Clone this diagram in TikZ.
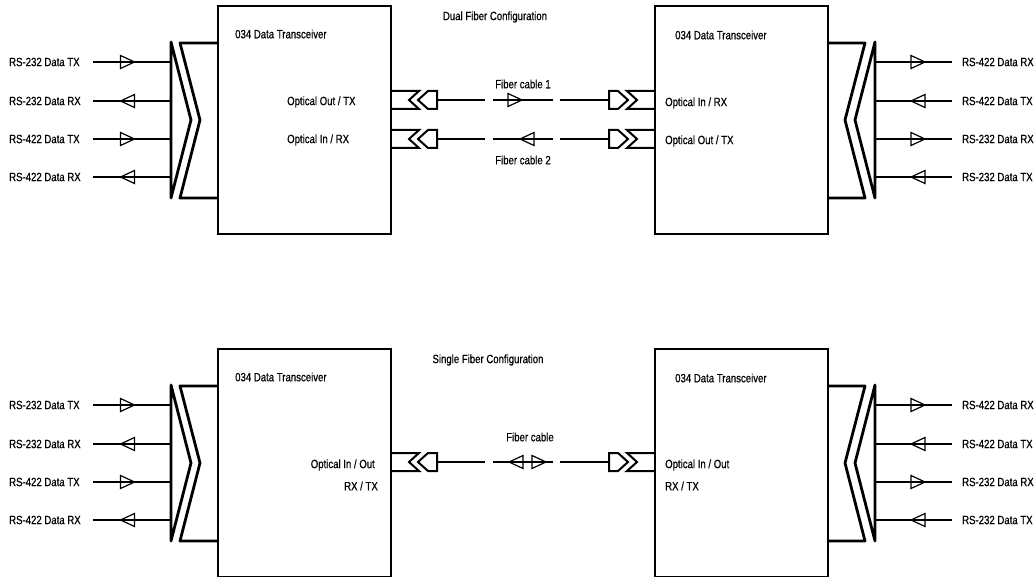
\documentclass[tikz,border=0pt]{standalone}
\usepackage{fontspec}
\setmainfont{Liberation Sans}[FakeStretch=0.8, FakeBold=0.6]
\tikzset{
  lbl/.style={inner sep=0pt, font=\fontsize{12}{14}\selectfont},
  xcvr/.style={draw, line width=2.8pt, minimum width=173pt, minimum height=228pt, inner sep=0pt},
  wire/.style={line width=2.4pt},
  port/.style={line width=2.8pt, line join=round},
  fib/.style={line width=2pt},
  fibre/.style={fib, dash pattern=on 48pt off 8pt on 60pt off 7pt on 49pt},
  tri/.pic={\draw[line width=1.2pt] (-7,-6.5) -- (7,0) -- (-7,6.5) -- cycle;},
  plug/.pic={
    \draw[fib] (0,-9) -- (28,-9) -- (18,0) -- (28,9) -- (0,9);
    \draw[fib] (46,-9) -- (37,-9) -- (27,0) -- (37,9) -- (46,9) -- cycle;
    \coordinate (-end) at (46,0);
  },
}
\begin{document}
\begin{tikzpicture}[x=1pt, y=-1pt]
        \useasboundingbox (0,0) rectangle (1034,577);
        % both halves share the transceivers and the data ports
        \foreach \s/\h in {0/a, 343/b}{
          \begin{scope}[shift={(0,\s)}]
            \node[xcvr] (boxL\h) at (304.5,120) {};
            \node[xcvr] (boxR\h) at (741.5,120) {};
            \node[lbl, anchor=west] (nameL\h) at (235,34) {034 Data Transceiver};
            \node[lbl, anchor=west] (nameR\h) at (675,35) {034 Data Transceiver};
            \draw[port] (171,42) -- (191,120) -- (171,198) -- cycle;
            \draw[port] (218,43) -- (180,43) -- (200,120) -- (180,198) -- (218,198);
            \draw[port] (875,42) -- (855,120) -- (875,198) -- cycle;
            \draw[port] (828,43) -- (865,43) -- (845,120) -- (865,198) -- (828,198);
            \foreach \y/\a/\b/\r in {62/RS-232 Data TX/RS-422 Data RX/0,
                101/RS-232 Data RX/RS-422 Data TX/180,
                139/RS-422 Data TX/RS-232 Data RX/0,
                177/RS-422 Data RX/RS-232 Data TX/180}{
              \node[lbl, anchor=west] (inL\h\y) at (9,\y) {\a};
              \node[lbl, anchor=west] (inR\h\y) at (962,\y) {\b};
              \coordinate (wL\h\y) at (93,\y);
              \coordinate (pL\h\y) at (171,\y);
              \coordinate (pR\h\y) at (875,\y);
              \coordinate (wR\h\y) at (952,\y);
              \draw[wire] (wL\h\y) -- (pL\h\y);
              \draw[wire] (pR\h\y) -- (wR\h\y);
              \pic[rotate=\r] at (127.5,\y) {tri};
              \pic[rotate=\r] at (918,\y) {tri};
            }
          \end{scope}
        }
        % dual fiber
        \node[lbl] (cfgDual) at (495,17) {Dual Fiber Configuration};
        \pic (plugL1) at (391,100) {plug};
        \pic (plugL2) at (391,139) {plug};
        \pic[xscale=-1] (plugR1) at (655,100) {plug};
        \pic[xscale=-1] (plugR2) at (655,139) {plug};
        \draw[fibre] (plugL1-end) -- (plugR1-end);
        \draw[fibre] (plugL2-end) -- (plugR2-end);
        \pic at (515,100) {tri};
        \pic[rotate=180] at (527,139) {tri};
        \node[lbl] (cable1) at (523,84) {Fiber cable 1};
        \node[lbl] (cable2) at (523,160) {Fiber cable 2};
        \node[lbl, anchor=west] (optL1) at (287,102) {Optical Out / TX};
        \node[lbl, anchor=west] (optL2) at (287,140) {Optical In / RX};
        \node[lbl, anchor=west] (optR1) at (665,103) {Optical In / RX};
        \node[lbl, anchor=west] (optR2) at (665,141) {Optical Out / TX};
        % single fiber
        \node[lbl] (cfgSingle) at (488,360) {Single Fiber Configuration};
        \pic (plugLs) at (391,462) {plug};
        \pic[xscale=-1] (plugRs) at (655,462) {plug};
        \draw[fibre] (plugLs-end) -- (plugRs-end);
        \pic[rotate=180] at (516,462) {tri};
        \pic at (539,462) {tri};
        \node[lbl] (cableS) at (530,437) {Fiber cable};
        \node[lbl, anchor=east] (optLs1) at (375,465) {Optical In / Out};
        \node[lbl, anchor=east] (optLs2) at (378,486) {RX / TX};
        \node[lbl, anchor=west] (optRs1) at (665,465) {Optical In / Out};
        \node[lbl, anchor=west] (optRs2) at (665,486) {RX / TX};
\end{tikzpicture}
\end{document}
